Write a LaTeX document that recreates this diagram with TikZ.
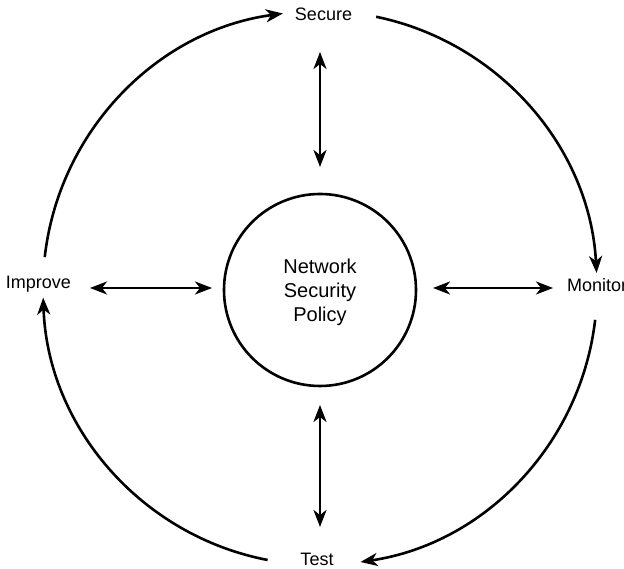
\documentclass[tikz,border=0pt]{standalone}
\usepackage{fontspec}
\setmainfont{Liberation Sans}
\usetikzlibrary{arrows.meta,calc}
\begin{document}
\begin{tikzpicture}[x=1pt,y=1pt,
  lbl/.style={font=\fontsize{18}{24}\selectfont, inner sep=0pt, anchor=base},
  tip/.tip={Stealth[length=17pt,width=13pt,inset=5pt]},
  conn/.style={line width=2.6pt, -tip},
  dbl/.style={line width=2.6pt, tip-tip}]
\useasboundingbox (0,0) rectangle (624,569);
% center
\node[circle, draw, line width=2.6pt, minimum size=192pt, inner sep=0pt] (pol) at (320,279) {};
\node[font=\fontsize{20}{24}\selectfont, inner sep=0pt, align=center, anchor=center] (poltxt) at (320,277) {Network\\Security\\Policy};
% labels
\node[lbl] (sec) at (323.5,548) {Secure};
\node[lbl, anchor=base west] (mon) at (567,277) {Monitor};
\node[lbl] (tst) at (317,3) {Test};
\node[lbl] (imp) at (38.5,280) {Improve};
% cycle arcs
\coordinate (c) at (320,281);
\coordinate (a1) at ($(c)+(173.6:277)$);
\coordinate (a2) at ($(c)+(78.3:277)$);
\coordinate (a3) at ($(c)+(-6.6:277)$);
\coordinate (a4) at ($(c)+(-100.9:277)$);
\draw[conn] (a1) arc[start angle=173.6, end angle=97.7, radius=277];
\draw[conn] (a2) arc[start angle=78.3, end angle=3.1, radius=277];
\draw[conn] (a3) arc[start angle=-6.6, end angle=-81.6, radius=277];
\draw[conn] (a4) arc[start angle=-100.9, end angle=-178, radius=277];
% double arrows
\coordinate (vt1) at (320,517); \coordinate (vt2) at (320,402);
\coordinate (vb1) at (320,164); \coordinate (vb2) at (320,42);
\coordinate (hl1) at (90,281); \coordinate (hl2) at (212,281);
\coordinate (hr1) at (433,281); \coordinate (hr2) at (553,281);
\draw[dbl] (vt1) -- (vt2);
\draw[dbl] (vb1) -- (vb2);
\draw[dbl] (hl1) -- (hl2);
\draw[dbl] (hr1) -- (hr2);
\end{tikzpicture}
\end{document}
